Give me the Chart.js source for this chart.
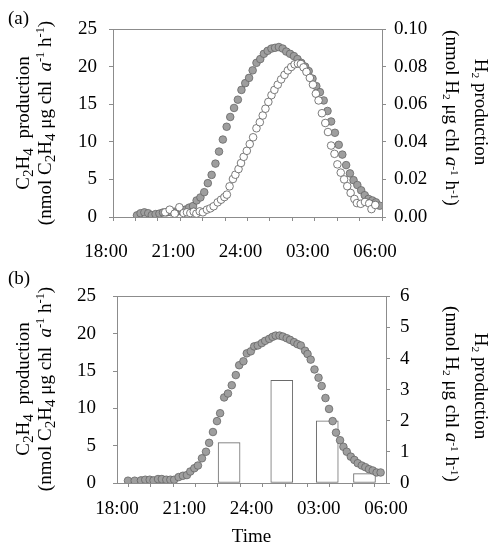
<!DOCTYPE html>
<html>
<head>
<meta charset="utf-8">
<script src="https://cdn.jsdelivr.net/npm/chart.js@4/dist/chart.umd.min.js"></script>
<style>
  html,body{margin:0;padding:0;background:#fff;}
  body{width:491px;height:543px;overflow:hidden;position:relative;font-family:'Liberation Serif','Times New Roman',serif;color:#000;}
  .cv{position:absolute;left:0;}
  .t{position:absolute;white-space:nowrap;font-size:19px;line-height:19px;}
  .l{transform:translate(-50%,-50%) rotate(-90deg);}
  .r{transform:translate(-50%,-50%) rotate(90deg);}
  sub{font-size:0.8em;vertical-align:-0.28em;line-height:0;}
  sup{font-size:0.65em;vertical-align:0.5em;line-height:0;}
  .r sup{font-size:0.6em;}
  .r sub{font-size:0.6em;vertical-align:-0.2em;}
</style>
</head>
<body>
<canvas id="ca" class="cv" width="491" height="268" style="top:0px"></canvas>
<canvas id="cb" class="cv" width="491" height="280" style="top:268px"></canvas>

<div class="t" style="left:8px;top:8px;">(a)</div>
<div class="t" style="left:8px;top:268px;">(b)</div>

<div class="t l" style="left:22px;top:123px;">C<sub>2</sub>H<sub>4</sub>&nbsp; production</div>
<div class="t l" style="left:44px;top:123px;">(nmol C<sub>2</sub>H<sub>4</sub> μg chl&nbsp; <i>a</i><sup>-1</sup> h<sup>-1</sup>)</div>
<div class="t r" style="left:481px;top:112px;">H<sub>2</sub> production</div>
<div class="t r" style="left:452px;top:118px;">(nmol H<sub>2</sub> μg chl <i>a</i><sup>-1</sup> h<sup>-1</sup>)</div>

<div class="t l" style="left:22px;top:389px;">C<sub>2</sub>H<sub>4</sub>&nbsp; production</div>
<div class="t l" style="left:44px;top:389px;">(nmol C<sub>2</sub>H<sub>4</sub> μg chl&nbsp; <i>a</i><sup>-1</sup> h<sup>-1</sup>)</div>
<div class="t r" style="left:481px;top:386px;">H<sub>2</sub> production</div>
<div class="t r" style="left:452px;top:394px;">(nmol H<sub>2</sub> μg chl <i>a</i><sup>-1</sup> h<sup>-1</sup>)</div>

<script>
// ---- Data (time = hours after 18:00) ----
const xTickLabels = ['18:00', '21:00', '24:00', '03:00', '06:00'];

// Panel (a): C2H4 production (left axis)
const timeA_C2H4 = [1.07,1.23,1.40,1.57,1.73,1.90,2.07,2.23,2.40,2.57,2.73,2.90,3.07,3.23,3.40,3.57,3.73,3.90,4.07,4.23,4.40,4.57,4.73,4.90,5.07,5.23,5.40,5.57,5.73,5.90,6.07,6.23,6.40,6.57,6.73,6.90,7.07,7.23,7.40,7.57,7.73,7.90,8.07,8.23,8.40,8.57,8.73,8.90,9.07,9.23,9.40,9.57,9.73,9.90,10.07,10.23,10.40,10.57,10.73,10.90,11.07,11.23,11.40,11.57,11.73,11.90];
const c2h4A = [0.22,0.50,0.62,0.50,0.25,0.38,0.45,0.60,0.62,0.66,0.70,0.75,0.85,0.98,1.25,1.45,2.20,2.60,3.30,4.50,5.60,7.10,8.70,10.30,12.00,13.30,14.50,15.60,16.90,17.80,18.50,19.50,20.50,21.00,21.70,22.10,22.40,22.50,22.60,22.40,22.00,21.70,21.40,21.00,20.50,20.00,19.40,18.40,17.40,16.60,15.50,14.10,12.70,11.20,9.60,8.30,6.90,5.80,4.90,4.25,3.55,2.90,2.40,2.20,1.95,1.50];

// Panel (a): H2 production (right axis)
const timeA_H2 = [2.33,2.53,2.75,2.96,3.15,3.30,3.45,3.60,3.72,3.87,4.01,4.19,4.34,4.49,4.67,4.82,4.97,5.08,5.20,5.35,5.46,5.60,5.71,5.83,5.97,6.10,6.25,6.40,6.55,6.68,6.80,6.93,7.07,7.20,7.35,7.50,7.65,7.80,7.95,8.10,8.25,8.38,8.50,8.63,8.78,8.92,9.05,9.17,9.32,9.47,9.59,9.73,9.88,10.01,10.16,10.31,10.45,10.60,10.77,10.88,11.05,11.24,11.43,11.53,11.70];
const h2A = [0.0025,0.0039,0.0018,0.0052,0.0021,0.0025,0.0021,0.0028,0.0018,0.0030,0.0025,0.0039,0.0046,0.0057,0.0078,0.0092,0.0106,0.0119,0.0163,0.0202,0.0225,0.0255,0.0287,0.0320,0.0352,0.0388,0.0424,0.0472,0.0504,0.0540,0.0576,0.0612,0.0648,0.0676,0.0704,0.0732,0.0756,0.0780,0.0798,0.0812,0.0816,0.0814,0.0796,0.0772,0.0740,0.0704,0.0656,0.0620,0.0552,0.0500,0.0452,0.0380,0.0336,0.0280,0.0236,0.0200,0.0164,0.0128,0.0096,0.0074,0.0070,0.0080,0.0072,0.0042,0.0064];

// Panel (b): C2H4 production (left axis)
const timeB_C2H4 = [0.49,0.79,1.07,1.26,1.46,1.63,1.83,2.00,2.20,2.38,2.55,2.75,2.94,3.12,3.27,3.45,3.61,3.79,3.97,4.11,4.28,4.46,4.60,4.78,4.95,5.12,5.30,5.45,5.64,5.79,5.97,6.12,6.28,6.46,6.61,6.79,6.94,7.08,7.25,7.40,7.57,7.72,7.90,8.05,8.20,8.39,8.50,8.64,8.81,8.99,9.13,9.30,9.46,9.62,9.77,9.95,10.10,10.25,10.43,10.59,10.74,10.92,11.08,11.24,11.41,11.58,11.76];
const c2h4B = [0.31,0.31,0.35,0.44,0.44,0.35,0.53,0.53,0.44,0.44,0.44,0.79,0.97,1.06,1.54,1.98,2.34,3.31,4.19,5.38,6.83,8.29,9.35,11.46,11.99,13.10,14.46,15.78,16.31,17.37,17.64,18.30,18.43,18.74,19.05,19.31,19.58,19.75,19.75,19.62,19.40,19.18,18.87,18.60,18.43,17.72,17.28,16.53,15.21,14.11,13.00,11.38,9.92,8.29,6.75,5.73,4.85,4.19,3.53,3.09,2.65,2.34,2.12,1.85,1.68,1.41,1.41];

// Panel (b): H2 production (right axis, bars)
const timeB_H2 = [5.00, 7.35, 9.38, 11.04];
const h2B = [1.3, 3.3, 2.0, 0.3];

// ---- Helpers ----
const pts = (xs, ys) => xs.map((x, i) => ({x: x, y: ys[i]}));
const AXIS = '#8c8c8c';
const FONT = {family: "'Liberation Serif','Times New Roman',serif", size: 19};

Chart.defaults.font.family = FONT.family;
Chart.defaults.font.size = FONT.size;
Chart.defaults.color = '#000';

const boxPlugin = {
  id: 'box',
  afterDraw(chart) {
    const a = chart.chartArea, c = chart.ctx;
    c.save();
    c.strokeStyle = AXIS;
    c.lineWidth = 1;
    c.strokeRect(Math.round(a.left) + 0.5, Math.round(a.top) + 0.5,
                 Math.round(a.right - a.left), Math.round(a.bottom - a.top));
    c.restore();
  }
};

function xScale(height, labelOffset, pad, title) {
  return {
    type: 'linear', min: 0, max: 12, offset: false,
    afterFit(s) { s.height = height; },
    grid: {drawOnChartArea: false, drawTicks: true, tickLength: 4, color: AXIS},
    border: {color: AXIS},
    ticks: {
      stepSize: 1, autoSkip: false, maxRotation: 0, labelOffset: labelOffset, padding: pad,
      callback: v => (v % 3 === 0 ? xTickLabels[v / 3] : '')
    },
    title: title ? {display: true, text: title, padding: {top: 0, bottom: 0}, font: {size: 19}} : {display: false}
  };
}
function yScale(pos, width, max, step, pad, fmt) {
  return {
    type: 'linear', position: pos, min: 0, max: max,
    afterFit(s) { s.width = width; },
    grid: {drawOnChartArea: false, drawTicks: true, tickLength: 4, color: AXIS},
    border: {color: AXIS},
    ticks: {stepSize: step, padding: pad, callback: fmt}
  };
}

const grayPt = {pointRadius: 3.8, pointBorderWidth: 0.8, pointBackgroundColor: '#9e9e9e', pointBorderColor: '#666666', showLine: false};
const whitePt = {pointRadius: 3.8, pointBorderWidth: 0.8, pointBackgroundColor: '#ffffff', pointBorderColor: '#5a5a5a', showLine: false};

new Chart(document.getElementById('ca'), {
  type: 'scatter',
  data: {
    datasets: [
      Object.assign({label: 'H2', data: pts(timeA_H2, h2A), yAxisID: 'y2', order: 0}, whitePt),
      Object.assign({label: 'C2H4', data: pts(timeA_C2H4, c2h4A), yAxisID: 'y', order: 1}, grayPt)
    ]
  },
  options: {
    responsive: false, animation: false, devicePixelRatio: 1,
    layout: {padding: {top: 29, left: 0, right: 0, bottom: 0}},
    plugins: {legend: {display: false}, tooltip: {enabled: false}},
    scales: {
      x: xScale(268 - 217, -7, 20, null),
      y: yScale('left', 113, 25, 5, 12, v => String(v)),
      y2: yScale('right', 491 - 382, 0.10, 0.02, 8, v => v.toFixed(2))
    }
  },
  plugins: [boxPlugin]
});

new Chart(document.getElementById('cb'), {
  type: 'scatter',
  data: {
    datasets: [
      Object.assign({label: 'C2H4', data: pts(timeB_C2H4, c2h4B), yAxisID: 'y', order: 0}, grayPt),
      {type: 'bar', label: 'H2', data: pts(timeB_H2, h2B), yAxisID: 'y2', xAxisID: 'x', order: 1,
       backgroundColor: '#ffffff', borderColor: '#6a6a6a', borderWidth: 1, barThickness: 22, borderSkipped: false}
    ]
  },
  options: {
    responsive: false, animation: false, devicePixelRatio: 1,
    layout: {padding: {top: 26, left: 0, right: 0, bottom: 0}},
    plugins: {legend: {display: false}, tooltip: {enabled: false}},
    scales: {
      x: xScale(280 - 215, 0, 11, 'Time'),
      y: yScale('left', 117, 25, 5, 17, v => String(v)),
      y2: yScale('right', 491 - 386, 6, 1, 10, v => String(v))
    }
  },
  plugins: [boxPlugin]
});
</script>
</body>
</html>
